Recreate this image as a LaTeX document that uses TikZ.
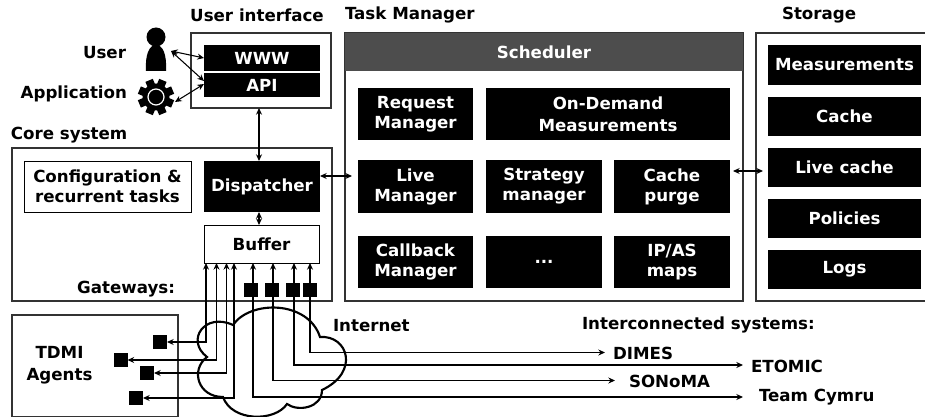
\documentclass[tikz,border=0pt]{standalone}
\usepackage{fontspec}
\setmainfont{DejaVu Sans}
\usetikzlibrary{arrows.meta,calc}
\definecolor{head}{HTML}{4D4D4D}
\definecolor{edge}{HTML}{333333}
\newcommand{\fs}{\fontsize{12.5}{15}\selectfont\bfseries}
\tikzset{
  panel/.style={draw=edge,line width=1.1pt,fill=white,inner sep=0pt},
  blk/.style={fill=black,text=white,font=\fs,align=center,inner sep=0pt},
  wbox/.style={draw=black,line width=.6pt,fill=white,text=black,font=\fs,align=center,inner sep=0pt},
  lbl/.style={font=\fs,inner sep=0pt,text=black,yshift=-1pt},
  sq/.style={fill=black,inner sep=0pt,minimum size=10.5pt},
  darr/.style={line width=.8pt,{Stealth[length=5pt,width=4.5pt]}-{Stealth[length=5pt,width=4.5pt]}},
}
\begin{document}
\begin{tikzpicture}[x=0.75pt,y=-0.75pt,every node/.append style={outer sep=0pt}]
\useasboundingbox (0,0) rectangle (925,417);
\fill[white] (0,0) rectangle (925,417);
% panels
\node[panel,minimum width=105pt,minimum height=56.25pt] (ui) at (261,70.5) {};
\node[panel,minimum width=240pt,minimum height=114.75pt] (core) at (172,224.5) {};
\node[panel,minimum width=298.5pt,minimum height=201pt] (tm) at (544,167) {};
\node[panel,minimum width=135pt,minimum height=201pt,anchor=west] (st) at (756,167) {};
\node[panel,minimum width=124.5pt,minimum height=76.5pt] (tdmi) at (95,366) {};
\node[lbl,align=center] (tdmit) at (59.5,364) {TDMI\\[1.5pt]Agents};
% titles
\node[lbl] (t1) at (257,14) {User interface};
\node[lbl,anchor=west] (t2) at (345,14) {Task Manager};
\node[lbl,anchor=west] (t3) at (782,14) {Storage};
\node[lbl,anchor=west] (t4) at (11,134) {Core system};
\node[lbl,anchor=east] (t5) at (126,51) {User};
\node[lbl,anchor=east] (t6) at (127,93) {Application};
\node[lbl,anchor=east] (t7) at (175,288) {Gateways:};
\node[lbl,anchor=west] (t8) at (333,324) {Internet};
\node[lbl,anchor=west] (t9) at (582,324) {Interconnected systems:};
% UI blocks
\node[blk,minimum width=87pt,minimum height=19.5pt] (www) at (262,58) {WWW};
\node[blk,minimum width=87pt,minimum height=18pt] (api) at (262,85) {API};
% Core blocks
\node[wbox,minimum width=125.25pt,minimum height=38.25pt] (conf) at (107.5,186.5) {Configuration \&\\recurrent tasks};
\node[blk,minimum width=87pt,minimum height=38.25pt] (disp) at (262,186.5) {Dispatcher};
\node[wbox,minimum width=86.25pt,minimum height=28.5pt] (buf) at (261.5,244) {Buffer};
% Scheduler
\node[fill=head,text=white,font=\fs,minimum width=298.5pt,minimum height=28.5pt,inner sep=0pt] (sch) at (544,52) {Scheduler};
% Task blocks
\node[blk,minimum width=86.25pt,minimum height=39pt] (req) at (415.5,114) {Request\\Manager};
\node[blk,minimum width=183pt,minimum height=39pt] (ond) at (608,114) {On-Demand\\[1.5pt]Measurements};
\node[blk,minimum width=86.25pt,minimum height=39.75pt] (live) at (415.5,186.5) {Live\\Manager};
\node[blk,minimum width=87pt,minimum height=39.75pt] (strat) at (544,186.5) {Strategy\\manager};
\node[blk,minimum width=87pt,minimum height=39.75pt] (purge) at (672,186.5) {Cache\\purge};
\node[blk,minimum width=86.25pt,minimum height=39pt] (call) at (415.5,262) {Callback\\Manager};
\node[blk,minimum width=87pt,minimum height=39pt] (dots) at (544,262) {...};
\node[blk,minimum width=87pt,minimum height=39pt] (ip) at (672,262) {IP/AS\\maps};
% Storage blocks
\node[blk,minimum width=114.75pt,minimum height=30pt] (meas) at (844.5,65) {Measurements};
\node[blk,minimum width=114.75pt,minimum height=29.25pt] (cache) at (844.5,116.5) {Cache};
\node[blk,minimum width=114.75pt,minimum height=29.25pt] (lcache) at (844.5,167.5) {Live cache};
\node[blk,minimum width=114.75pt,minimum height=29.25pt] (pol) at (844.5,218.5) {Policies};
\node[blk,minimum width=114.75pt,minimum height=29.25pt] (logs) at (844.5,269.5) {Logs};
% Person
\fill[black] (156,37) circle (9.5);
\fill[black] (146,71) .. controls (145,55) and (149,45) .. (156,45) .. controls (163,45) and (167,55) .. (166,71) -- cycle;
% Gear
\fill[black] (156,97) circle (13.5);
\foreach \a in {0,45,...,315}{\fill[black,rotate around={\a+22.5:(156,97)}] (152,79) rectangle (160,90);}
\draw[white,line width=.9pt] (156,97) circle (8);
\coordinate (pu) at (171,51);
\coordinate (pg) at (175,102);
% Cloud
\draw[black,line width=1.6pt,fill=white] (207,357) .. controls (185,340) and (205,312) .. (233,325)
 .. controls (250,300) and (308,300) .. (320,337)
 .. controls (348,335) and (360,372) .. (322,390)
 .. controls (322,408) and (298,412) .. (287,404)
 .. controls (275,422) and (232,422) .. (223,397)
 .. controls (198,397) and (190,370) .. (207,357) -- cycle;
% Top arrows
\draw[darr] (pu) -- (www.west);
\draw[darr] (pu) -- ($(api.west)+(0,-4)$);
\draw[darr] (pg) -- ($(api.west)+(0,-1)$);
\coordinate (vt) at (259,108);
\draw[darr] (vt) -- (vt |- disp.north);
\draw[darr] (vt |- disp.south) -- (vt |- buf.north);
\coordinate (dl) at (352,176);
\draw[darr] (disp.east |- dl) -- (dl);
\coordinate (sl) at (763,171);
\coordinate (sr) at (733,171);
\draw[darr] (sr) -- (sl);
% Gateways
\node[sq] (g1) at (251,290) {};
\node[sq] (g2) at (272,290) {};
\node[sq] (g3) at (292.5,290) {};
\node[sq] (g4) at (310,290) {};
% Agents
\node[sq] (a1) at (160,342) {};
\node[sq] (a2) at (120.5,360) {};
\node[sq] (a3) at (147,373) {};
\node[sq] (a4) at (136,398) {};
\draw[darr] (206,263) |- (a1.east);
\draw[darr] (216.5,263) |- (a2.east);
\draw[darr] (226.5,263) |- (a3.east);
\draw[darr] (234,263) |- (a4.east);
% Systems
\node[lbl,anchor=west] (dimes) at (613,352) {DIMES};
\node[lbl,anchor=west] (etomic) at (751,365) {ETOMIC};
\node[lbl,anchor=west] (sonoma) at (629,380) {SONoMA};
\node[lbl,anchor=west] (cymru) at (759,396) {Team Cymru};
\coordinate (e1) at (605,352.5);
\coordinate (e2) at (743,365);
\coordinate (e3) at (615,380.5);
\coordinate (e4) at (743,397);
\draw[darr] (310,263) |- (e1);
\draw[darr] (294,263) |- (e2);
\draw[darr] (273,263) |- (e3);
\draw[darr] (253,263) |- (e4);
\end{tikzpicture}
\end{document}
